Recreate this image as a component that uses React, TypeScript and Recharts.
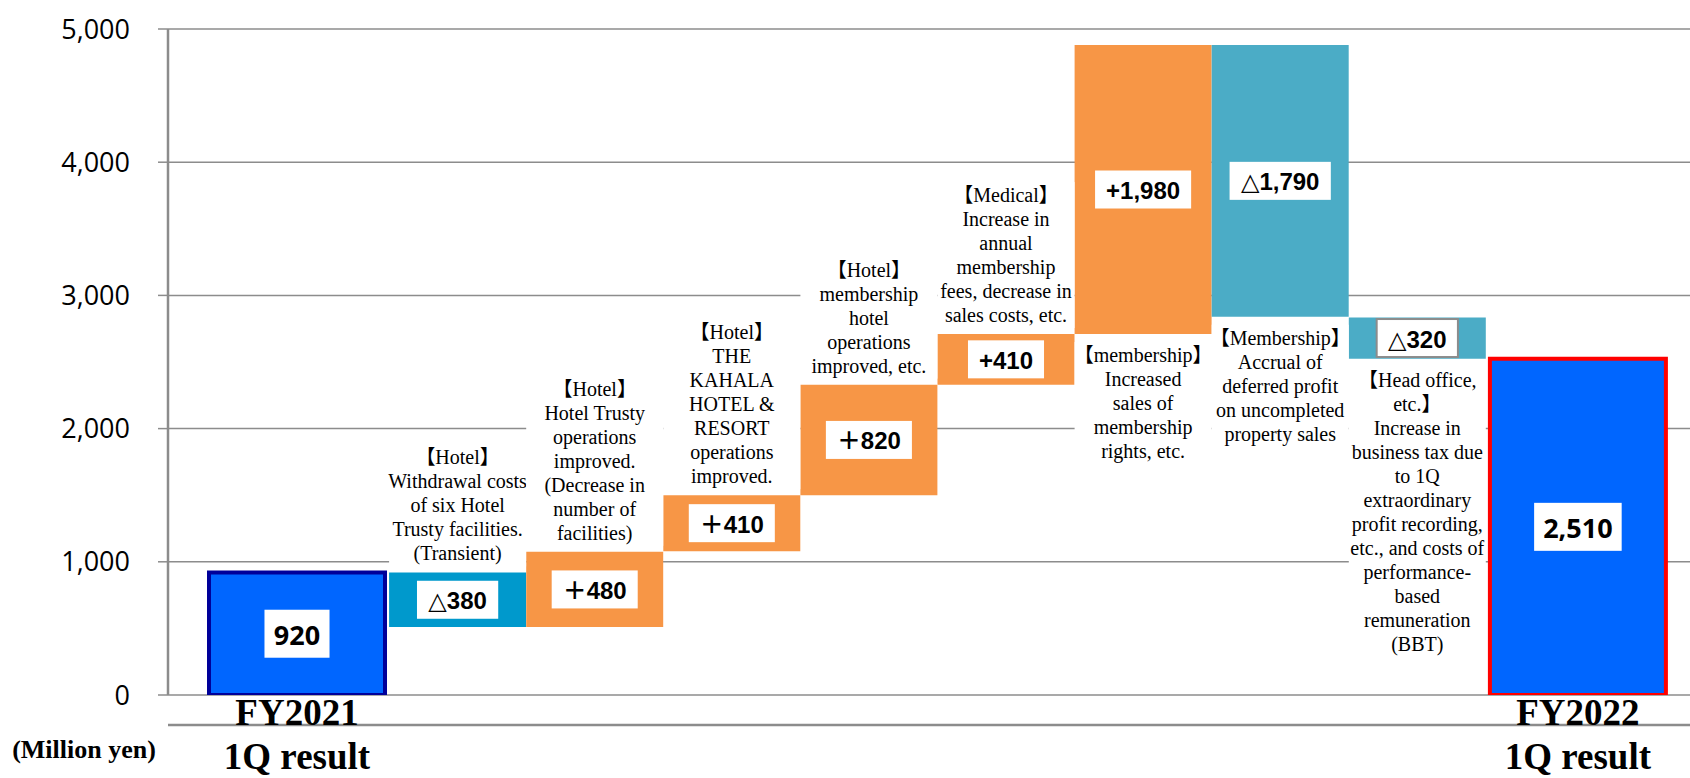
import React from "react";
import { BarChart, Bar, XAxis, YAxis, CartesianGrid, LabelList, Rectangle } from "recharts";

// waterfall steps, left to right
const categories = [
  "FY2021 1Q result",
  "Hotel Trusty withdrawal",
  "Hotel Trusty operations",
  "THE KAHALA",
  "Membership hotel",
  "Medical",
  "Membership rights",
  "Deferred profit",
  "Head office",
  "FY2022 1Q result",
];
// bar extents as drawn (million yen)
const barBottom = [0, 510, 510, 1080, 1500, 2330, 2710, 2840, 2525, 0];
const barTop = [920, 920, 1075, 1500, 2330, 2710, 4880, 4880, 2835, 2525];
const valueLabels = ["920", "△380", "＋480", "＋410", "＋820", "+410", "+1,980", "△1,790", "△320", "2,510"];
const captions = [["FY2021", "1Q result"], [], [], [], [], [], [], [], [], ["FY2022", "1Q result"]];
const notes = [
  [],
  ["【Hotel】", "Withdrawal costs", "of six Hotel", "Trusty facilities.", "(Transient)"],
  ["【Hotel】", "Hotel Trusty", "operations", "improved.", "(Decrease in", "number of", "facilities)"],
  ["【Hotel】", "THE", "KAHALA", "HOTEL &", "RESORT", "operations", "improved."],
  ["【Hotel】", "membership", "hotel", "operations", "improved, etc."],
  ["【Medical】", "Increase in", "annual", "membership", "fees, decrease in", "sales costs, etc."],
  ["【membership】", "Increased", "sales of", "membership", "rights, etc."],
  ["【Membership】", "Accrual of", "deferred profit", "on uncompleted", "property sales"],
  [
    "【Head office,",
    "etc.】",
    "Increase in",
    "business tax due",
    "to 1Q",
    "extraordinary",
    "profit recording,",
    "etc., and costs of",
    "performance-",
    "based",
    "remuneration",
    "(BBT)",
  ],
  [],
];
const notePlace = ["", "above", "above", "above", "above", "above", "below", "below", "below", ""];
const yTicks = [0, 1000, 2000, 3000, 4000, 5000];
const gridTicks = [0, 1, 2, 3, 4, 5, 6];

const data = categories.map((name, i) => ({
  name,
  range: [barBottom[i], barTop[i]],
  label: valueLabels[i],
}));

const FILLS = ["#0066FF", "#0099CC", "#F79646", "#F79646", "#F79646", "#F79646", "#F79646", "#4BACC6", "#4BACC6", "#0066FF"];
const EDGES: Record<number, string> = { 0: "#000099", 9: "#FF0000" };
const AXIS = "#8c8c8c";
const LAST = categories.length - 1;
const TOTAL_W = 176;
const LINE_H = 24;

const isTotal = (i: number) => i === 0 || i === LAST;
// totals are drawn wider than a step, growing outward
const totalX = (x: number, width: number, i: number) => (i === 0 ? x + width - 4 - TOTAL_W : x + 4);

function box(p: any) {
  const vb = p.viewBox && p.viewBox.x != null ? p.viewBox : p;
  const top = Math.min(vb.y, vb.y + vb.height);
  const bottom = Math.max(vb.y, vb.y + vb.height);
  const i = p.index;
  const cx = isTotal(i) ? totalX(vb.x, vb.width, i) + TOTAL_W / 2 : vb.x + vb.width / 2;
  return { x: vb.x, width: vb.width, top, bottom, cx, i };
}

function WaterfallBar(p: any) {
  const i = p.index;
  if (isTotal(i)) {
    return (
      <Rectangle
        x={totalX(p.x, p.width, i)}
        y={p.y}
        width={TOTAL_W}
        height={p.height}
        fill={FILLS[i]}
        stroke={EDGES[i]}
        strokeWidth={4}
      />
    );
  }
  return <Rectangle x={p.x} y={p.y} width={p.width} height={p.height} fill={FILLS[i]} />;
}

const glyphEm = (c: string) =>
  /[0-9]/.test(c) ? 0.556 : c === "," ? 0.278 : c === "+" ? 0.584 : c === "△" ? 0.8 : 1.0;

function ValueBox(p: any) {
  const { top, bottom, cx, i } = box(p);
  const text = valueLabels[i];
  const total = isTotal(i);
  const fs = total ? 27 : 24;
  const tw = text.split("").reduce((s, c) => s + glyphEm(c), 0) * fs;
  const bw = tw + (total ? 20 : 22);
  const bh = total ? 48 : 38;
  const cy = (top + bottom) / 2;
  return (
    <g>
      <rect
        x={cx - bw / 2}
        y={cy - bh / 2}
        width={bw}
        height={bh}
        fill="#fff"
        stroke={i === 8 ? "#8c8c8c" : "none"}
        strokeWidth={2}
      />
      <text
        x={cx}
        y={cy + 1}
        textAnchor="middle"
        dominantBaseline="central"
        fontFamily={
          total ? "'Open Sans', sans-serif" : "'Liberation Sans', 'DejaVu Sans', 'Noto Sans CJK JP', sans-serif"
        }
        fontWeight="bold"
        fontSize={fs}
        fill="#000"
      >
        {text}
      </text>
    </g>
  );
}

function NoteText(p: any) {
  const { x, width, top, bottom, cx, i } = box(p);
  const lines = notes[i];
  if (!lines.length) return null;
  const first = notePlace[i] === "above" ? top - 19 - (lines.length - 1) * LINE_H : bottom + 21;
  return (
    <g>
      <rect x={x} y={first - 13} width={width} height={(lines.length - 1) * LINE_H + 26} fill="#fff" />
      {lines.map((l, k) => (
        <text
          key={k}
          x={cx}
          y={first + k * LINE_H}
          textAnchor="middle"
          dominantBaseline="central"
          fontFamily="'Liberation Serif', 'Noto Sans CJK JP', serif"
          fontSize={20}
          fill="#000"
        >
          {l}
        </text>
      ))}
    </g>
  );
}

function Caption(p: any) {
  const { bottom, cx, i } = box(p);
  const lines = captions[i];
  if (!lines.length) return null;
  return (
    <g>
      {lines.map((l, k) => (
        <text
          key={k}
          x={cx}
          y={bottom + 17 + k * 44}
          textAnchor="middle"
          dominantBaseline="central"
          fontFamily="'Liberation Serif', serif"
          fontWeight="bold"
          fontSize={37}
          fill="#000"
        >
          {l}
        </text>
      ))}
    </g>
  );
}

export default function App() {
  return (
    <div
      style={{
        position: "absolute",
        left: 0,
        top: 0,
        width: 1690,
        height: 778,
        overflow: "hidden",
        background: "#fff",
      }}
    >
      <BarChart
        width={1720}
        height={778}
        data={data}
        margin={{ top: 29, right: 14, bottom: 0, left: 0 }}
        barCategoryGap={0}
        barGap={0}
      >
        <CartesianGrid xAxisId="grid" vertical={false} stroke={AXIS} strokeWidth={1.5} />
        <XAxis xAxisId="cat" dataKey="name" type="category" hide padding={{ left: 84, right: 83 }} />
        <XAxis
          xAxisId="grid"
          type="number"
          domain={[0, 6]}
          ticks={gridTicks}
          allowDataOverflow
          tick={false}
          tickSize={9}
          height={83}
          axisLine={{ stroke: AXIS, strokeWidth: 2.5 }}
          tickLine={{ stroke: AXIS, strokeWidth: 1.5 }}
        />
        <YAxis
          domain={[0, 5000]}
          ticks={yTicks}
          interval={0}
          allowDataOverflow
          width={168}
          tickSize={10}
          tickMargin={28}
          tickFormatter={(v: number) => v.toLocaleString("en-US")}
          tick={{ fontFamily: "'Open Sans', sans-serif", fontSize: 27, fill: "#000" }}
          axisLine={{ stroke: AXIS, strokeWidth: 2.5 }}
          tickLine={{ stroke: AXIS, strokeWidth: 1.5 }}
          label={{
            value: "(Million yen)",
            position: "bottom",
            offset: 45,
            style: { fontFamily: "'Liberation Serif', serif", fontWeight: "bold", fontSize: 26, fill: "#000" },
          }}
        />
        <Bar
          xAxisId="cat"
          dataKey="range"
          isAnimationActive={false}
          shape={(p: any) => <WaterfallBar {...p} />}
        >
          <LabelList dataKey="name" content={(p: any) => <NoteText {...p} />} />
          <LabelList dataKey="label" content={(p: any) => <ValueBox {...p} />} />
          <LabelList dataKey="name" content={(p: any) => <Caption {...p} />} />
        </Bar>
      </BarChart>
    </div>
  );
}
